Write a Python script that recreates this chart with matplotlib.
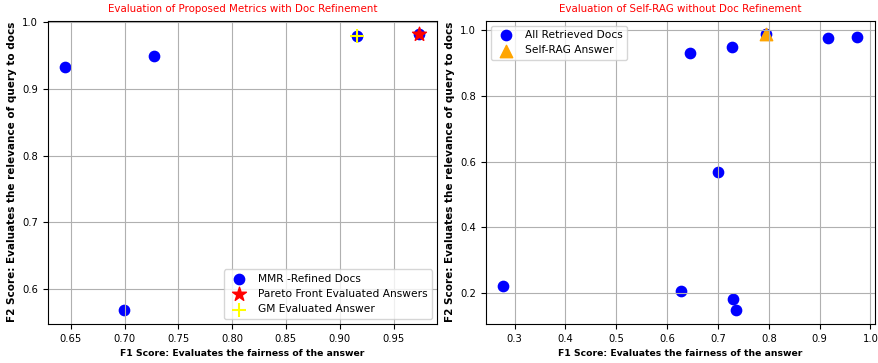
import matplotlib.pyplot as plt

# F1 / F2 scores of the MMR-refined documents
refined_f1 = [0.645, 0.727, 0.699, 0.916, 0.974]
refined_f2 = [0.932, 0.949, 0.569, 0.979, 0.981]

# answers picked out by the two selection rules
pareto_f1 = [0.974]
pareto_f2 = [0.981]
gm_f1 = [0.916]
gm_f2 = [0.979]

# F1 / F2 scores of every retrieved document (no refinement)
retrieved_f1 = [0.278, 0.628, 0.645, 0.700, 0.728, 0.729, 0.736, 0.795, 0.916, 0.974]
retrieved_f2 = [0.221, 0.207, 0.931, 0.570, 0.949, 0.182, 0.148, 0.988, 0.978, 0.980]

selfrag_f1 = [0.795]
selfrag_f2 = [0.988]

XLABEL = "F1 Score: Evaluates the fairness of the answer"
YLABEL = "F2 Score: Evaluates the relevance of query to docs"

plt.rcParams['font.size'] = 7.3
plt.rcParams['xtick.labelsize'] = 7.2
plt.rcParams['ytick.labelsize'] = 7.2
plt.rcParams['legend.fontsize'] = 7.7

fig, (ax1, ax2) = plt.subplots(1, 2, figsize=(8.79, 3.63), dpi=100)
fig.subplots_adjust(left=0.0543, right=0.9954, bottom=0.1074, top=0.9435, wspace=0.125)

# left: proposed metrics with document refinement
ax1.scatter(refined_f1, refined_f2, color='blue', s=55, label='MMR -Refined Docs')
ax1.scatter(pareto_f1, pareto_f2, color='red', marker='*', s=110, label='Pareto Front Evaluated Answers')
ax1.scatter(gm_f1, gm_f2, color='yellow', marker='+', s=110, label='GM Evaluated Answer')
ax1.set_title("Evaluation of Proposed Metrics with Doc Refinement", color='red', fontsize=7.4)
ax1.set_xlabel(XLABEL, fontweight='bold', fontsize=6.7)
ax1.set_ylabel(YLABEL, fontweight='bold', fontsize=7.5)
ax1.legend(loc='lower right')
ax1.grid(True)

# right: Self-RAG without refinement
ax2.scatter(retrieved_f1, retrieved_f2, color='blue', s=55, label='All Retrieved Docs')
ax2.scatter(selfrag_f1, selfrag_f2, color='orange', marker='^', s=80, label='Self-RAG Answer')
ax2.set_title("Evaluation of Self-RAG without Doc Refinement", color='red', fontsize=7.4)
ax2.set_xlabel(XLABEL, fontweight='bold', fontsize=6.7)
ax2.set_ylabel(YLABEL, fontweight='bold', fontsize=7.5)
ax2.legend(loc='upper left')
ax2.grid(True)

plt.savefig("out.png", dpi=100)
plt.close()
